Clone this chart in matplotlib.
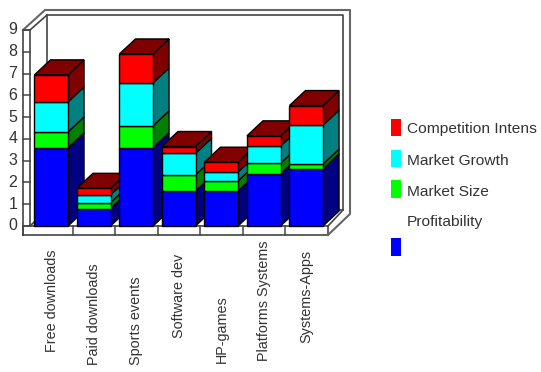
import matplotlib
matplotlib.use("Agg")
import matplotlib.pyplot as plt
from matplotlib.patches import Polygon, Rectangle
import numpy as np

categories = ["Free downloads", "Paid downloads", "Sports events", "Software dev",
              "HP-games", "Platforms Systems", "Systems-Apps"]
profitability = [3.59, 0.80, 3.59, 1.60, 1.60, 2.39, 2.62]
market_size = [0.73, 0.27, 1.01, 0.75, 0.47, 0.49, 0.22]
market_growth = [1.38, 0.36, 1.97, 0.99, 0.41, 0.79, 1.79]
competition = [1.24, 0.30, 1.33, 0.31, 0.45, 0.47, 0.90]
series_names = ["Profitability", "Market Size", "Market Growth", "Competition Intens"]
y_ticks = list(range(10))

series = [profitability, market_size, market_growth, competition]
front = ["#0000ff", "#00ff00", "#00ffff", "#ff0000"]
side = ["#000080", "#008000", "#008080", "#800000"]
top_col = "#800000"

W, H = 541, 372
plt.rcParams["font.family"] = ["Liberation Sans", "DejaVu Sans"]
fig = plt.figure(figsize=(W / 100, H / 100), dpi=100, facecolor="white")

# overlay in pixel coordinates: frame and legend
ov = fig.add_axes([0, 0, 1, 1], zorder=1)
ov.set_xlim(0, W); ov.set_ylim(H, 0); ov.axis("off")

# data axes
PITCH = 42.5
X0, Y0, Y9 = 30.0, 226.0, 30.0
ax = fig.add_axes([X0 / W, 1 - Y0 / H, 7 * PITCH / W, (Y0 - Y9) / H], zorder=2)
ax.set_xlim(-0.5, 6.5); ax.set_ylim(0, 9); ax.axis("off")
ax.patch.set_alpha(0)

c = "#444444"
def ln(xs, ys, lw=1.2, col=c, z=1):
    ov.plot(xs, ys, color=col, lw=lw, solid_capstyle="projecting", zorder=z)

# wall, floor and outer frame
ln([23, 23, 30, 30], [235, 30, 30, 226])
ln([23, 23, 328, 328, 23], [235, 226, 226, 235, 235])
ln([23, 45, 350, 350, 328], [30, 10, 10, 214, 235], lw=1.5, col="#666666")
ln([30, 47, 343, 343, 328], [30, 15, 15, 210, 226])
ln([47, 47], [15, 210])
ln([30, 47, 343], [226, 210, 210])
for v in y_ticks:
    y = Y0 - v * (Y0 - Y9) / 9
    ln([23, 30], [y, y], lw=1.1)
    ov.text(13, y, str(v), ha="center", va="center", fontsize=11.5, color="#333333")
for i in range(1, 7):
    x = X0 + i * PITCH
    ln([x, x], [226, 235], lw=1.1)

# bars
bw = 0.79
dx = 16 / PITCH
dy = 15 / ((Y0 - Y9) / 9)
for i in range(len(categories)):
    base = 0.0
    xl, xr = i - bw / 2, i + bw / 2
    for k, vals in enumerate(series):
        v = vals[i]
        ax.bar(i, v, bw, bottom=base, color=front[k], edgecolor="black", lw=1.0,
               zorder=10 + 3 * i + 1, clip_on=False)
        ax.add_patch(Polygon([(xr, base), (xr + dx, base + dy), (xr + dx, base + v + dy), (xr, base + v)],
                             closed=True, fc=side[k], ec="black", lw=1.0, zorder=10 + 3 * i, clip_on=False))
        base += v
    ax.add_patch(Polygon([(xl, base), (xl + dx, base + dy), (xr + dx, base + dy), (xr, base)],
                         closed=True, fc=top_col, ec="black", lw=1.0, zorder=10 + 3 * i, clip_on=False))

# category labels (rotated, placed as in the reference)
label_x = [52, 94, 136, 179, 222, 264, 306]
label_bottom = [352, 365, 365, 338, 363, 361, 343]
for name, x, b in zip(categories, label_x, label_bottom):
    ov.text(x, b, name, rotation=90, ha="center", va="bottom", fontsize=10.4, color="#333333")

# legend
swatches = [(118.5, 136), (150, 167), (180, 198), (238, 256)]
text_y = [129, 161, 192, 222]
for k in range(3, -1, -1):
    y0, y1 = swatches[3 - k]
    ov.add_patch(Rectangle((391, y0), 9.5, y1 - y0, fc=front[k], ec="none"))
    ov.text(407, text_y[3 - k], series_names[k], ha="left", va="center", fontsize=11.15, color="#333333")

fig.savefig("out.png", dpi=100)
